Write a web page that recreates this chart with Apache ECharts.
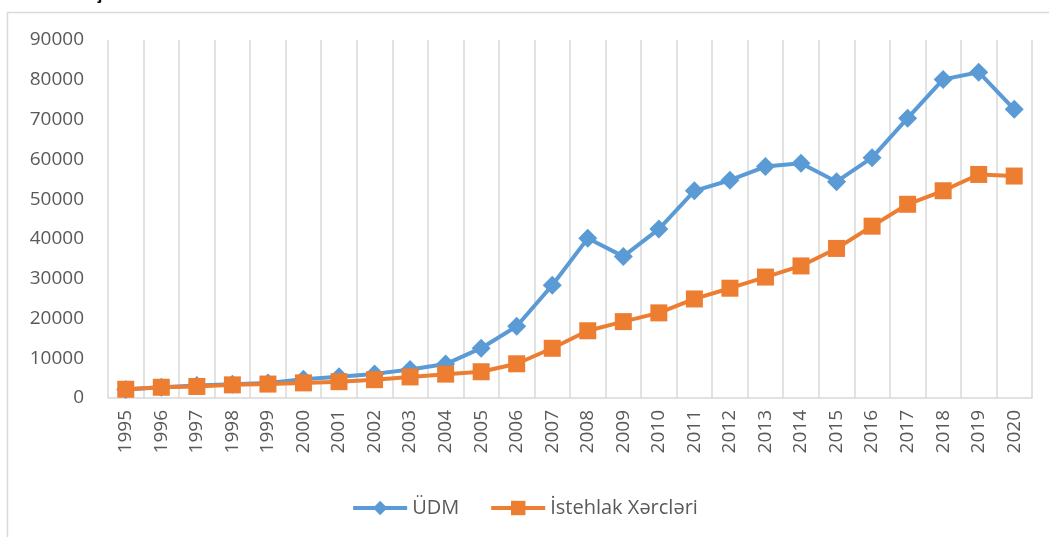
<!DOCTYPE html>
<html>
<head>
<meta charset="utf-8">
<script src="https://cdn.jsdelivr.net/npm/echarts@6/dist/echarts.min.js"></script>
<style>
  html, body { margin: 0; padding: 0; background: #fff; }
  #main { width: 1049px; height: 537px; }
</style>
</head>
<body>
<div id="main"></div>
<script>
// illər
const years = ['1995', '1996', '1997', '1998', '1999', '2000', '2001', '2002', '2003', '2004',
  '2005', '2006', '2007', '2008', '2009', '2010', '2011', '2012', '2013', '2014',
  '2015', '2016', '2017', '2018', '2019', '2020']

const udm = [2133, 2732, 3158, 3441, 3776, 4718, 5316, 6063, 7146, 8530,
  12523, 18034, 28361, 40138, 35602, 42465, 52082, 54744, 58182, 59014,
  54380, 60425, 70338, 80092, 81896, 72578]

const istehlak = [2200, 2700, 2900, 3300, 3500, 3800, 4100, 4600, 5300, 6000,
  6600, 8600, 12500, 16900, 19200, 21400, 24900, 27600, 30400, 33200,
  37600, 43200, 48700, 52100, 56200, 55800]

const font = '"Open Sans", "DejaVu Sans", sans-serif'
const labelColor = '#595959'
const gridColor = '#d9d9d9'

const chart = echarts.init(document.getElementById('main'))

const option = {
  backgroundColor: '#fff',
  animation: false,
  textStyle: { fontFamily: font },
  graphic: [
    // çərçivə
    {
      type: 'rect',
      shape: { x: 7.5, y: 12.5, width: 1060, height: 540 },
      style: { fill: 'none', stroke: gridColor, lineWidth: 1.5 }
    },
    // yuxarıda kəsilmiş başlıq
    {
      type: 'text',
      left: 94, top: -15,
      style: { text: 'ç', font: 'bold 18px ' + font, fill: '#000' }
    }
  ],
  grid: { left: 108, right: 17, top: 40, bottom: 139, containLabel: false },
  legend: {
    bottom: 14,
    left: 'center',
    itemWidth: 54,
    itemHeight: 18,
    itemGap: 30,
    lineStyle: { width: 4 },
    textStyle: { fontSize: 20, color: labelColor, fontFamily: font },
    data: ['ÜDM', 'İstehlak Xərcləri']
  },
  xAxis: {
    type: 'category',
    data: years,
    boundaryGap: true,
    axisLine: { lineStyle: { color: gridColor, width: 1.5 } },
    axisTick: { show: false },
    splitLine: { show: true, lineStyle: { color: gridColor, width: 1.5 } },
    axisLabel: { rotate: 90, margin: 12, fontSize: 19, color: labelColor, fontFamily: font }
  },
  yAxis: {
    type: 'value',
    min: 0,
    max: 90000,
    interval: 10000,
    axisLine: { show: false },
    axisTick: { show: false },
    splitLine: { show: false },
    axisLabel: {
      margin: 24, fontSize: 19, color: labelColor, fontFamily: font,
      formatter: v => String(v)
    }
  },
  series: [
    {
      name: 'ÜDM',
      type: 'line',
      data: udm,
      symbol: 'diamond',
      symbolSize: 19,
      color: '#5B9BD5',
      lineStyle: { width: 4, color: '#5B9BD5' },
      itemStyle: { color: '#5B9BD5' },
      z: 2
    },
    {
      name: 'İstehlak Xərcləri',
      type: 'line',
      data: istehlak,
      symbol: 'rect',
      symbolSize: 17,
      color: '#ED7D31',
      lineStyle: { width: 4, color: '#ED7D31' },
      itemStyle: { color: '#ED7D31' },
      z: 3
    }
  ]
}

chart.setOption(option)
</script>
</body>
</html>
